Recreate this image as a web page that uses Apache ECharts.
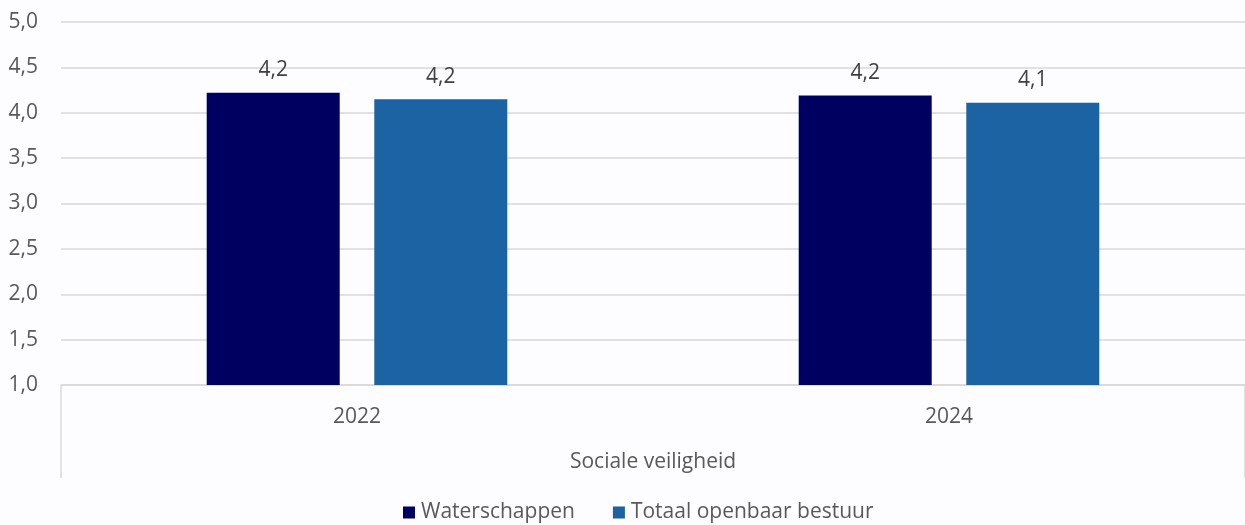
<!DOCTYPE html>
<html><head><meta charset="utf-8">
<script src="https://cdn.jsdelivr.net/npm/echarts@6/dist/echarts.min.js"></script>
<style>html,body{margin:0;padding:0;background:#fdfcfe}#c{width:1245px;height:525px}</style>
</head><body><div id="c"></div>
<script>
const categories = ['2022', '2024'];
const groupLabel = ['Sociale veiligheid'];
const seriesNames = ['Waterschappen', 'Totaal openbaar bestuur'];
const waterschappen = [4.22, 4.19];
const totaalOpenbaarBestuur = [4.15, 4.11];
const yMin = 1, yMax = 5, yStep = 0.5;

const FONT = '"Open Sans", Lato, sans-serif';
const fmt = v => v.toFixed(1).replace('.', ',');
const chart = echarts.init(document.getElementById('c'));
chart.setOption({
  backgroundColor: '#fdfcfe',
  animation: false,
  textStyle: { fontFamily: FONT },
  grid: { left: 61, right: 0, top: 22, bottom: 140 },
  legend: {
    bottom: -3, left: 398, icon: 'rect', itemWidth: 12, itemHeight: 12, itemGap: 38,
    textStyle: { fontFamily: FONT, fontSize: 21, color: '#595959', padding: [0, 0, 0, 1] },
    data: seriesNames
  },
  xAxis: [{
    type: 'category', data: categories, position: 'bottom',
    axisLine: { lineStyle: { color: '#d9d9d9', width: 1.5 } },
    axisTick: { show: false },
    axisLabel: { fontFamily: FONT, fontSize: 21, color: '#595959', margin: 22 }
  }, {
    type: 'category', data: groupLabel, position: 'bottom',
    axisLine: { show: false },
    axisTick: { show: true, length: 93, interval: 0, lineStyle: { color: '#d9d9d9', width: 1.5 } },
    axisLabel: { fontFamily: FONT, fontSize: 21, color: '#595959', margin: 67 }
  }],
  yAxis: {
    type: 'value', min: yMin, max: yMax, interval: yStep,
    axisLine: { show: false }, axisTick: { show: false },
    splitLine: { lineStyle: { color: '#d9d9d9', width: 1.5 } },
    axisLabel: { fontFamily: FONT, fontSize: 21, color: '#595959', margin: 23, formatter: v => fmt(v) }
  },
  series: [{
    name: seriesNames[0], type: 'bar', data: waterschappen, barWidth: 133, barGap: '26%',
    itemStyle: { color: '#000060' },
    label: { show: true, position: 'top', distance: 12, fontFamily: FONT, fontSize: 21, color: '#404040', formatter: p => fmt(p.value) }
  }, {
    name: seriesNames[1], type: 'bar', data: totaalOpenbaarBestuur, barWidth: 133,
    itemStyle: { color: '#1b63a3' },
    label: { show: true, position: 'top', distance: 12, fontFamily: FONT, fontSize: 21, color: '#404040', formatter: p => fmt(p.value) }
  }]
});
</script></body></html>
